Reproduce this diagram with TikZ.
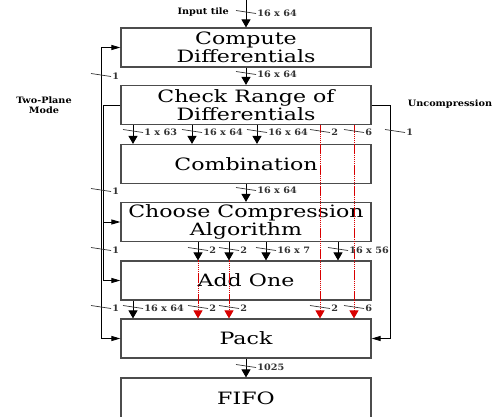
\documentclass[tikz,border=0pt]{standalone}
\usepackage{fontspec}
\newfontfamily\blkfont[FakeStretch=1.3]{DejaVu Serif}
\newfontfamily\lblfont[FakeStretch=1.1]{DejaVu Serif Bold}
\usetikzlibrary{arrows.meta}

\begin{document}
\begin{tikzpicture}[x=1pt, y=-1pt, blk/.style={draw=black!70, line width=1.2pt, minimum width=250pt, minimum height=39pt, inner sep=0pt, align=center, font=\blkfont\fontsize{17}{14.5}\selectfont}, arr/.style={line width=0.9pt, -{Triangle[width=9pt,length=8pt]}}, side/.style={line width=0.9pt, -{Triangle[width=5pt,length=9pt]}}, redarr/.style={draw=red!85!black, dash pattern=on 1.5pt off 0.6pt, line width=1pt, -{Triangle[width=9pt,length=8pt]}}, tick/.style={line width=0.7pt, black!80}, lbl/.style={font=\lblfont\fontsize{8.8}{9.5}\selectfont, inner sep=1pt}]
	\fill[white] (0,0) rectangle (496,416);
	\useasboundingbox (0,0) rectangle (496,416);
	\node[blk] (cd) at (246,47.5) {Compute\\Differentials};
	\node[blk] (cr) at (246,105) {Check Range of\\Differentials};
	\node[blk] (cb) at (246,164) {Combination};
	\node[blk] (cc) at (246,222) {Choose Compression\\Algorithm};
	\node[blk] (ao) at (246,280.5) {Add One};
	\node[blk] (pk) at (246,338.5) {Pack};
	\node[blk, minimum height=40pt] (ff) at (246,398) {FIFO};
	\node[lbl, anchor=east] (it) at (230,12) {Input tile};
	\node[lbl, align=center] (tpm) at (44,105) {Two-Plane\\Mode};
	\node[lbl] (unc) at (450,104) {Uncompression};
	\coordinate (in) at (246,0);
	\draw[arr] (in) -- (cd.north);
	\draw[arr] (cd.south) -- (cr.north);
	\draw[arr] (cb.south) -- (cc.north);
	\draw[arr] (pk.south) -- (ff.north);
	\foreach \x in {133,192,257} {\draw[arr] (\x,0 |- cr.south) -- (\x,0 |- cb.north);}
	\foreach \x in {198,229,266,338} {\draw[arr] (\x,0 |- cc.south) -- (\x,0 |- ao.north);}
	\draw[arr] (133,0 |- ao.south) -- (133,0 |- pk.north);
	\foreach \x in {320,354} {\draw[redarr] (\x,0 |- cr.south) -- (\x,0 |- pk.north);}
	\foreach \x in {198,229} {\draw[redarr] (\x,0 |- ao.north) -- (\x,0 |- pk.north);}
	\coordinate (tp) at (101,0 |- cd.west);
	\draw[side] (tp) -- (cd.west);
	\draw[side] (tp) |- (pk.west);
	\coordinate (ck) at (103.5,0 |- cr.west);
	\draw[line width=0.9pt] (cr.west) -- (ck);
	\draw[side] (ck) |- (ao.west);
	\draw[side] (ck |- cc.west) -- (cc.west);
	\coordinate (uc) at (390,0 |- cr.east);
	\draw[line width=0.9pt] (cr.east) -- (uc);
	\draw[side] (uc) |- (pk.east);
	\foreach \x/\y/\txt [count=\k] in {246/12/16 x 64, 246/73/16 x 64, 133/131/1 x 63, 192/131/16 x 64, 257/131/16 x 64, 320/131/2, 354/131/6, 395/131/1, 246/189/16 x 64, 198/249/2, 229/249/2, 266/249/16 x 7, 338/249/16 x 56, 133/307/16 x 64, 198/307/2, 229/307/2, 320/307/2, 354/307/6, 246/366/1025, 101/75/1, 101/190/1, 101/249/1, 101/307/1} {\draw[tick] (\x-10,\y-1.5) -- (\x+10,\y+1.5) node[lbl, anchor=west] (w\k) {\txt};}
\end{tikzpicture}
\end{document}
